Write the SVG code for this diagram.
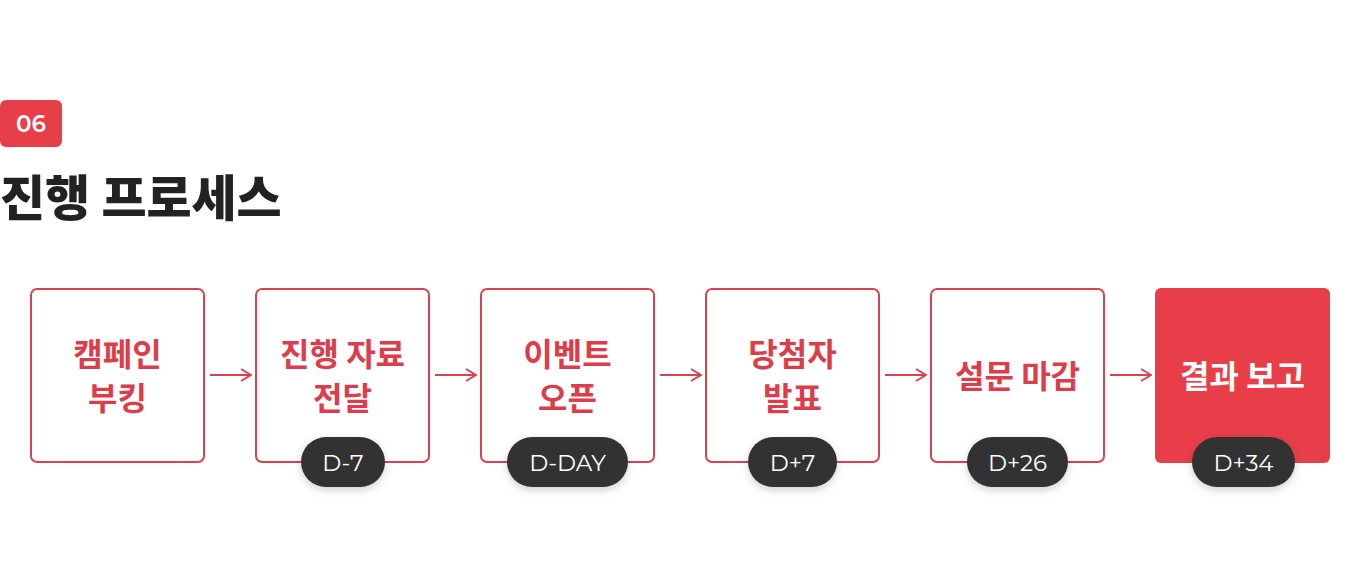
<svg xmlns="http://www.w3.org/2000/svg" width="1360" height="588" viewBox="0 0 1360 588">
<defs>
<style>
.box{fill:#fff;stroke:#d8434f;stroke-width:2}
.boxf{fill:#e83e4a}
.lbl{font-family:"Noto Sans CJK KR","Noto Sans",sans-serif;font-weight:700;font-size:32px;fill:#dc3d4a;text-anchor:middle}
.lblw{fill:#fff}
.pill{fill:#333}
.pt{font-family:"Montserrat","Noto Sans","Liberation Sans",sans-serif;font-size:23px;fill:#fff;text-anchor:middle}
.conn{stroke:#d8434f;stroke-width:2;fill:none}
</style>
<marker id="ah" viewBox="0 0 12 14" refX="11" refY="7" markerWidth="12" markerHeight="14" markerUnits="userSpaceOnUse" orient="auto">
<path d="M1,1 L11,7 L1,13" fill="none" stroke="#d8434f" stroke-width="2"/>
</marker>
<filter id="sh" x="-20%" y="-30%" width="140%" height="180%">
<feDropShadow dx="0" dy="3" stdDeviation="4" flood-color="#000" flood-opacity="0.18"/>
</filter>
</defs>
<rect width="1360" height="588" fill="#fff"/>
<g id="header">
<rect x="0" y="100" width="62" height="47" rx="6" fill="#e83e4a"/>
<text x="31" y="132" font-family="Montserrat,'Noto Sans',sans-serif" font-weight="600" font-size="23" fill="#fff" text-anchor="middle">06</text>
<text x="0" y="216" font-family="'Noto Sans CJK KR',sans-serif" font-weight="900" font-size="49" fill="#222">진행 프로세스</text>
</g>
<g id="connectors">
<line class="conn" x1="210" y1="375" x2="251" y2="375" marker-end="url(#ah)"/>
<line class="conn" x1="435" y1="375" x2="476" y2="375" marker-end="url(#ah)"/>
<line class="conn" x1="660" y1="375" x2="701" y2="375" marker-end="url(#ah)"/>
<line class="conn" x1="885" y1="375" x2="926" y2="375" marker-end="url(#ah)"/>
<line class="conn" x1="1110" y1="375" x2="1151" y2="375" marker-end="url(#ah)"/>
</g>
<g id="node1">
<rect class="box" x="31" y="289" width="173" height="173" rx="6"/>
<text class="lbl" x="117.5" y="366">캠페인</text>
<text class="lbl" x="117.5" y="410">부킹</text>
</g>
<g id="node2">
<rect class="box" x="256" y="289" width="173" height="173" rx="6"/>
<text class="lbl" x="342.5" y="366">진행 자료</text>
<text class="lbl" x="342.5" y="410">전달</text>
<rect class="pill" x="301" y="437" width="84" height="50" rx="25" filter="url(#sh)"/>
<text class="pt" x="343" y="471">D-7</text>
</g>
<g id="node3">
<rect class="box" x="481" y="289" width="173" height="173" rx="6"/>
<text class="lbl" x="567.5" y="366">이벤트</text>
<text class="lbl" x="567.5" y="410">오픈</text>
<rect class="pill" x="507" y="437" width="121" height="50" rx="25" filter="url(#sh)"/>
<text class="pt" x="567.5" y="471">D-DAY</text>
</g>
<g id="node4">
<rect class="box" x="706" y="289" width="173" height="173" rx="6"/>
<text class="lbl" x="792.5" y="366">당첨자</text>
<text class="lbl" x="792.5" y="410">발표</text>
<rect class="pill" x="748" y="437" width="89" height="50" rx="25" filter="url(#sh)"/>
<text class="pt" x="792.5" y="471">D+7</text>
</g>
<g id="node5">
<rect class="box" x="931" y="289" width="173" height="173" rx="6"/>
<text class="lbl" x="1017.5" y="388">설문 마감</text>
<rect class="pill" x="967" y="437" width="101" height="50" rx="25" filter="url(#sh)"/>
<text class="pt" x="1017.5" y="471">D+26</text>
</g>
<g id="node6">
<rect class="boxf" x="1155" y="288" width="175" height="175" rx="6"/>
<text class="lbl lblw" x="1242.5" y="388">결과 보고</text>
<rect class="pill" x="1192" y="437" width="103" height="50" rx="25" filter="url(#sh)"/>
<text class="pt" x="1243.5" y="471">D+34</text>
</g>
</svg>
